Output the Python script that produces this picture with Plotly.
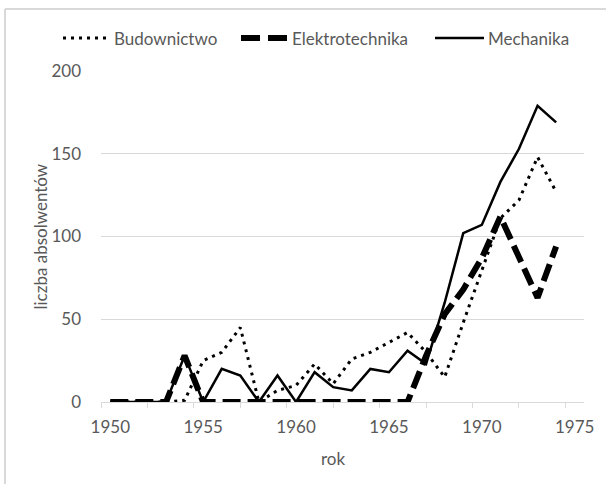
import plotly.graph_objects as go

years = list(range(1950, 1975))
budownictwo = [0, 0, 0, 0, 1, 25, 30, 45, 0, 7, 10, 23, 11, 26, 30, 36, 42, 30, 15, 48, 79, 111, 122, 148, 127]
elektrotechnika = [0, 0, 0, 0, 28, 0, 0, 0, 0, 0, 0, 0, 0, 0, 0, 0, 0, 28, 53, 68, 87, 112, 88, 63, 94]
mechanika = [0, 0, 0, 0, 28, 0, 20, 16, 0, 16, 0, 18, 9, 7, 20, 18, 31, 23, 60, 102, 107, 133, 153, 179, 169]
series_names = ["Budownictwo", "Elektrotechnika", "Mechanika"]
x_ticks = [1950, 1955, 1960, 1965, 1970, 1975]
y_ticks = [0, 50, 100, 150, 200]

FONT = "Lato"
FS = 17
GRAY = "#595959"
GRID = "#d9d9d9"

W, H = 606, 484
L, R, T, B = 101, 22, 71, 82
PW = W - L - R
PH = H - T - B

styles = [
    dict(color="black", width=3, dash="3px,5px"),
    dict(color="black", width=6, dash="18px,7px"),
    dict(color="black", width=2.5),
]
legend_styles = [
    dict(color="black", width=3, dash="3px,5px"),
    dict(color="black", width=6, dash="19px,8px"),
    dict(color="black", width=2.5),
]

fig = go.Figure()
for name, vals, st in zip(series_names, [budownictwo, elektrotechnika, mechanika], styles):
    fig.add_trace(go.Scatter(x=years, y=vals, mode="lines", name=name, line=st,
                             showlegend=False))


def px_x(px):
    return (px - L) / PW


def px_y(py):
    return (H - B - py) / PH


# manual legend (sample line + text)
legend_y = 38
legend_items = [(63, 110), (241, 287), (435, 484)]
text_x = [112, 290, 486]
shapes = []
annotations = []
for (x0, x1), tx, name, st in zip(legend_items, text_x, series_names, legend_styles):
    shapes.append(dict(type="line", xref="paper", yref="paper",
                       x0=px_x(x0), x1=px_x(x1), y0=px_y(legend_y), y1=px_y(legend_y),
                       line=st))
    annotations.append(dict(text=name, xref="paper", yref="paper", x=px_x(tx),
                            y=px_y(legend_y), xanchor="left", yanchor="middle",
                            showarrow=False, font=dict(family=FONT, size=FS, color=GRAY)))

annotations += [
    dict(text="liczba absolwentów", xref="paper", yref="paper", x=px_x(40), y=0.5,
         textangle=-90, showarrow=False, xanchor="center", yanchor="middle",
         font=dict(family=FONT, size=FS, color=GRAY)),
    dict(text="rok", xref="paper", yref="paper", x=px_x(333), y=px_y(458),
         showarrow=False, xanchor="center", yanchor="middle",
         font=dict(family=FONT, size=FS, color=GRAY)),
]

shapes += [
    dict(type="line", xref="paper", yref="paper", x0=px_x(5), x1=px_x(W + 10),
         y0=px_y(9), y1=px_y(9), line=dict(color=GRID, width=2)),
    dict(type="line", xref="paper", yref="paper", x0=px_x(5), x1=px_x(5),
         y0=px_y(9), y1=px_y(H + 10), line=dict(color=GRID, width=2)),
]

fig.update_layout(
    width=W, height=H,
    margin=dict(l=L, r=R, t=T, b=B, autoexpand=False),
    paper_bgcolor="white", plot_bgcolor="white",
    font=dict(family=FONT, size=FS, color=GRAY),
    showlegend=False,
    xaxis=dict(range=[1949.5, 1975.5], tickmode="array", tickvals=x_ticks,
               ticktext=[str(v) for v in x_ticks], ticks="", showgrid=False,
               showline=True, linecolor=GRID, linewidth=1, zeroline=False,
               ticklabelstandoff=10,
               minor=dict(ticks="outside", ticklen=5, tickcolor=GRID, tickwidth=1,
                          tick0=1949.5, dtick=2.5, showgrid=False),
               tickfont=dict(family=FONT, size=FS, color=GRAY)),
    yaxis=dict(range=[0, 200], tickmode="array", tickvals=y_ticks,
               showgrid=True, gridcolor=GRID, gridwidth=1, zeroline=False,
               showline=False, ticks="", ticklabelstandoff=19,
               tickfont=dict(family=FONT, size=FS, color=GRAY)),
    annotations=annotations,
    shapes=shapes,
)

fig.write_html("out.html", config={"displayModeBar": False},
               post_script="document.body.style.margin='0';")
